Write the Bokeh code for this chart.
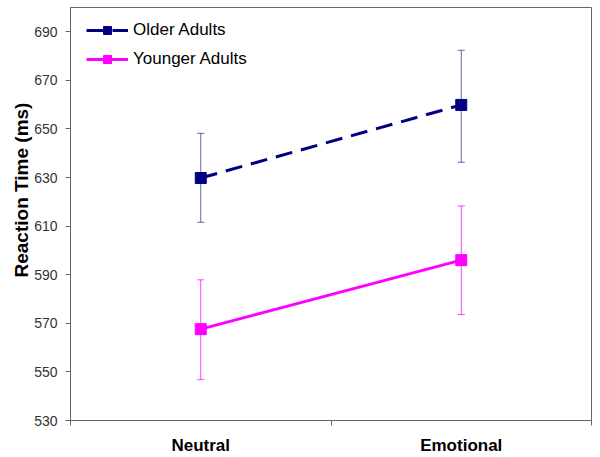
from bokeh.plotting import figure
from bokeh.models import (Range1d, FixedTicker, LinearAxis, Legend, LegendItem,
                          Whisker, TeeHead, ColumnDataSource, Title)
from bokeh.embed import file_html
from bokeh.resources import INLINE

# ---- data ----
categories = ["Neutral", "Emotional"]
cat_pos = [0.5, 1.5]
cat_bounds = [0, 1, 2]
older_mean = [629.8, 659.9]
older_lower = [611.6, 636.3]
older_upper = [648.2, 682.4]
younger_mean = [567.6, 596.0]
younger_lower = [546.8, 573.6]
younger_upper = [587.9, 618.3]
y_ticks = [530, 550, 570, 590, 610, 630, 650, 670, 690]
series_names = ["Older Adults", "Younger Adults"]
y_title = "Reaction Time (ms)"

FONT = "Liberation Sans"
NAVY = "#000080"
PINK = "#ff00ff"

p = figure(width=600, height=457, output_backend="svg", toolbar_location=None,
           x_range=Range1d(0, 2), y_range=Range1d(530, 700),
           min_border_left=70, min_border_right=9, min_border_top=7,
           min_border_bottom=37, x_axis_type=None, y_axis_type=None)
p.grid.visible = False
p.outline_line_color = "#666666"
p.outline_line_width = 1
p.background_fill_color = "white"
p.border_fill_color = "white"

# y axis
yaxis = LinearAxis(ticker=FixedTicker(ticks=y_ticks))
yaxis.axis_line_color = "#666666"
yaxis.major_tick_line_color = "#666666"
yaxis.major_tick_out = 5
yaxis.major_tick_in = 0
yaxis.minor_tick_line_color = None
yaxis.major_label_standoff = 8
yaxis.major_label_text_font = FONT
yaxis.major_label_text_font_size = "14px"
yaxis.major_label_text_color = "#333333"
p.add_layout(yaxis, "left")

# y axis title, as a side title so it can sit off-centre like the reference
ttl = Title(text=y_title, align="left", offset=143, standoff=0,
            text_font=FONT, text_font_size="19px", text_font_style="bold",
            text_color="black")
p.add_layout(ttl, "left")

# x axis: labels at category centres, tick marks between categories
xaxis = LinearAxis(ticker=FixedTicker(ticks=cat_pos, minor_ticks=cat_bounds))
xaxis.major_label_overrides = {cat_pos[i]: categories[i] for i in range(len(categories))}
xaxis.axis_line_color = "#666666"
xaxis.major_tick_line_color = None
xaxis.major_tick_out = 0
xaxis.major_tick_in = 0
xaxis.minor_tick_line_color = "#666666"
xaxis.minor_tick_out = 5
xaxis.minor_tick_in = 0
xaxis.major_label_standoff = 10
xaxis.major_label_text_font = FONT
xaxis.major_label_text_font_size = "17px"
xaxis.major_label_text_font_style = "bold"
xaxis.major_label_text_color = "black"
p.add_layout(xaxis, "below")

# error bars
src_o = ColumnDataSource(dict(x=cat_pos, y=older_mean, lo=older_lower, hi=older_upper))
src_y = ColumnDataSource(dict(x=cat_pos, y=younger_mean, lo=younger_lower, hi=younger_upper))
for src, col, alpha in ((src_o, NAVY, 0.6), (src_y, PINK, 0.75)):
    w = Whisker(base="x", upper="hi", lower="lo", source=src, level="underlay",
                line_color=col, line_alpha=alpha, line_width=1,
                upper_head=TeeHead(size=7, line_color=col, line_alpha=alpha, line_width=1),
                lower_head=TeeHead(size=7, line_color=col, line_alpha=alpha, line_width=1))
    p.add_layout(w)

lo_line = p.line("x", "y", source=src_o, line_color=NAVY, line_width=3, line_dash="17 9")
lo_pts = p.scatter("x", "y", source=src_o, marker="square", size=11,
                   fill_color=NAVY, line_color=NAVY)
ly_line = p.line("x", "y", source=src_y, line_color=PINK, line_width=3)
ly_pts = p.scatter("x", "y", source=src_y, marker="square", size=11,
                   fill_color=PINK, line_color=PINK)

legend = Legend(items=[LegendItem(label=series_names[0], renderers=[lo_line, lo_pts]),
                       LegendItem(label=series_names[1], renderers=[ly_line, ly_pts])],
                location=(16, 351), margin=0, padding=0, spacing=9,
                glyph_width=42, glyph_height=20, label_height=20, label_standoff=5,
                label_text_font=FONT, label_text_font_size="17px",
                label_text_color="black", border_line_color=None,
                background_fill_alpha=0)
p.add_layout(legend)

open("out.html", "w").write(file_html(p, INLINE))
